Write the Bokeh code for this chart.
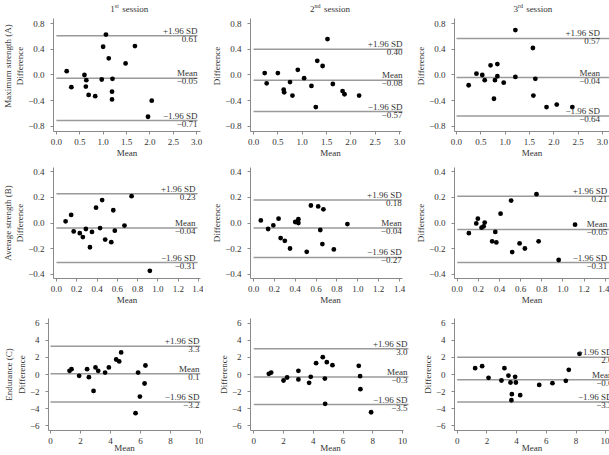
from bokeh.plotting import figure
from bokeh.layouts import column, row
from bokeh.models import Range1d, FixedTicker, CustomJSTickFormatter, Label, Title
from bokeh.embed import file_html
from bokeh.resources import INLINE

# ---------------------------------------------------------------- data
session_numbers = ["1", "2", "3"]
session_suffixes = ["st", "nd", "rd"]
row_names = ["Maximum strength (A)", "Average strength (B)", "Endurance (C)"]

# Maximum strength (A): mean of the two trials vs. their difference
max_s1_mean = [0.22, 0.32, 0.60, 0.64, 0.63, 0.69, 0.83, 0.97, 1.00, 1.06, 1.12, 1.20, 1.19, 1.19, 1.48, 1.68, 1.96, 2.04]
max_s1_diff = [0.06, -0.19, 0.00, -0.08, -0.18, -0.31, -0.33, -0.07, 0.44, 0.63, 0.26, -0.06, -0.26, -0.38, 0.18, 0.45, -0.65, -0.40]
max_s2_mean = [0.23, 0.27, 0.50, 0.62, 0.63, 0.80, 0.75, 0.91, 1.04, 1.19, 1.28, 1.31, 1.42, 1.52, 1.63, 1.83, 1.87, 2.17]
max_s2_diff = [0.03, -0.13, 0.03, -0.23, -0.27, -0.32, -0.11, 0.08, -0.05, -0.17, -0.50, 0.22, 0.14, 0.56, -0.14, -0.25, -0.30, -0.32]
max_s3_mean = [0.25, 0.41, 0.53, 0.58, 0.70, 0.77, 0.79, 0.84, 0.84, 0.97, 1.21, 1.21, 1.57, 1.58, 1.62, 1.85, 2.06, 2.38]
max_s3_diff = [-0.16, 0.02, 0.00, -0.08, 0.15, -0.37, -0.08, 0.17, -0.02, -0.12, 0.70, -0.03, 0.42, -0.32, -0.06, -0.50, -0.46, -0.50]

# Average strength (B)
avg_s1_mean = [0.09, 0.145, 0.17, 0.23, 0.26, 0.29, 0.33, 0.35, 0.39, 0.43, 0.45, 0.48, 0.54, 0.56, 0.575, 0.67, 0.74, 0.92]
avg_s1_diff = [0.013, 0.063, -0.066, -0.08, -0.11, -0.047, -0.19, -0.07, 0.12, -0.04, 0.18, -0.13, -0.15, 0.10, -0.06, -0.02, 0.21, -0.375]
avg_s2_mean = [0.07, 0.14, 0.19, 0.24, 0.26, 0.30, 0.35, 0.40, 0.43, 0.43, 0.51, 0.55, 0.62, 0.64, 0.66, 0.67, 0.77, 0.90]
avg_s2_diff = [0.02, -0.047, -0.018, 0.034, -0.118, -0.14, -0.20, 0.008, 0.0, 0.03, -0.226, 0.137, 0.13, -0.055, -0.165, 0.107, -0.207, -0.008]
avg_s3_mean = [0.11, 0.18, 0.195, 0.23, 0.25, 0.26, 0.33, 0.36, 0.37, 0.41, 0.51, 0.52, 0.59, 0.64, 0.75, 0.77, 0.96, 1.115]
avg_s3_diff = [-0.08, -0.003, 0.034, -0.037, -0.026, 0.003, -0.144, -0.07, -0.152, 0.073, 0.176, -0.228, -0.16, -0.20, 0.226, -0.144, -0.29, -0.013]

# Endurance (C)
end_s1_mean = [1.27, 1.40, 1.91, 2.44, 2.56, 2.87, 3.00, 3.18, 3.64, 3.89, 4.38, 4.58, 4.71, 5.67, 5.84, 5.96, 6.27, 6.33]
end_s1_diff = [0.43, 0.62, -0.16, 0.62, -0.31, -1.91, 0.82, 0.43, 0.23, 0.82, 1.75, 1.52, 2.57, -4.51, 0.23, -2.57, -1.05, 1.05]
end_s2_mean = [1.01, 1.17, 2.00, 2.24, 3.00, 3.00, 3.72, 3.83, 4.19, 4.64, 4.78, 4.80, 4.91, 5.29, 7.06, 7.15, 7.17, 7.89]
end_s2_diff = [0.08, 0.23, -0.70, -0.35, 0.43, -0.58, -0.97, -0.27, 1.32, 2.02, -0.47, -3.42, 1.44, 1.09, 1.01, -0.19, -1.71, -4.40]
end_s3_mean = [1.21, 1.68, 2.11, 2.98, 3.18, 3.45, 3.59, 3.68, 3.65, 3.90, 3.95, 4.24, 5.52, 6.41, 7.31, 7.51, 8.23]
end_s3_diff = [0.74, 0.97, -0.39, -0.70, 0.74, -0.12, -0.93, -2.30, -3.00, -0.27, -0.93, -2.41, -1.21, -1.01, -0.74, 0.54, 2.41]

# Limits of agreement (upper, bias, lower) per session
max_upper = [0.61, 0.40, 0.57]
max_bias = [-0.05, -0.08, -0.04]
max_lower = [-0.71, -0.57, -0.64]
avg_upper = [0.23, 0.18, 0.21]
avg_bias = [-0.04, -0.04, -0.05]
avg_lower = [-0.31, -0.27, -0.31]
end_upper = [3.3, 3.0, 2.0]
end_bias = [0.1, -0.3, -0.6]
end_lower = [-3.2, -3.5, -3.2]

# tick values
max_x_ticks = [0.0, 0.5, 1.0, 1.5, 2.0, 2.5, 3.0]
max_y_ticks = [-0.8, -0.4, 0.0, 0.4, 0.8]
avg_x_ticks = [0.0, 0.2, 0.4, 0.6, 0.8, 1.0, 1.2, 1.4]
avg_y_ticks = [-0.4, -0.2, 0.0, 0.2, 0.4]
end_x_ticks = [0, 2, 4, 6, 8, 10]
end_y_ticks = [-6, -4, -2, 0, 2, 4, 6]

# ---------------------------------------------------------------- styling / layout
FONT = "Liberation Serif"
FS = "9px"
TXT = "#333333"
AXIS = "#8a8a8a"
LINE = "#9a9a9a"
MINUS = "\u2212"

points = [
    [(max_s1_mean, max_s1_diff), (max_s2_mean, max_s2_diff), (max_s3_mean, max_s3_diff)],
    [(avg_s1_mean, avg_s1_diff), (avg_s2_mean, avg_s2_diff), (avg_s3_mean, avg_s3_diff)],
    [(end_s1_mean, end_s1_diff), (end_s2_mean, end_s2_diff), (end_s3_mean, end_s3_diff)],
]
limits = [
    (max_upper, max_bias, max_lower),
    (avg_upper, avg_bias, avg_lower),
    (end_upper, end_bias, end_lower),
]
ticks = [
    (max_x_ticks, max_y_ticks),
    (avg_x_ticks, avg_y_ticks),
    (end_x_ticks, end_y_ticks),
]

# the top row's frame reaches up to the canvas edge so the session headings
# can sit inside it; the y axis itself only spans y_bounds
row_geom = [
    dict(height=162, top=0, bottom=31, y=(-0.88, 1.16), y_bounds=(-0.88, 0.88),
         tick_dec=1, lim_dec=2, label_standoff=0),
    dict(height=150, top=5, bottom=34, y=(-0.435, 0.435), y_bounds=(-0.435, 0.435),
         tick_dec=1, lim_dec=2, label_standoff=0),
    dict(height=143, top=6, bottom=25, y=(-6.53, 6.53), y_bounds=(-6.53, 6.53),
         tick_dec=0, lim_dec=1, label_standoff=-4),
]
col_geom = [
    dict(width=203, left=48, right=3),
    dict(width=207, left=47, right=0),
    dict(width=199, left=44, right=0),
]
# frame x extent, axis-line extent, where the limit labels end, where the lines stop
x_extent = [
    [(-0.062, 3.083), (-0.062, 3.226), (-0.041, 3.144)],
    [(-0.029, 1.419), (-0.029, 1.505), (-0.026, 1.441)],
    [(-0.133, 10.0), (-0.222, 10.54), (-0.18, 10.25)],
]
x_bounds = [
    [(-0.062, 3.083), (-0.062, 3.05), (-0.041, 3.144)],
    [(-0.029, 1.419), (-0.029, 1.43), (-0.026, 1.441)],
    [(-0.133, 10.0), (-0.222, 10.07), (-0.18, 10.25)],
]
label_x = [[3.02, 3.06, 2.95], [1.37, 1.42, 1.42], [9.93, 10.34, 10.45]]
line_end = [[3.02, 3.06, 3.3], [1.39, 1.42, 1.5], [10.0, 10.4, 11.0]]
# pixel offsets of the heading pieces: number, raised suffix, "session"
heading_offsets = [(-18.5, -14.0, -6.5), (-19.0, -14.5, -5.0), (-18.5, -14.0, -5.8)]


def fmt(v, dec):
    s = f"{v:.{dec}f}"
    return MINUS + s[1:] if s.startswith("-") else s


def tick_formatter(dec):
    return CustomJSTickFormatter(args=dict(d=dec), code="""
        let s = tick.toFixed(d);
        if (parseFloat(s) === 0) s = (0).toFixed(d);
        return s.startsWith('-') ? '\u2212' + s.slice(1) : s;
    """)


def add_text(p, x, y, text, baseline, size=FS, x_offset=0, align="right"):
    p.add_layout(Label(x=x, y=y, text=text, text_font=FONT, text_font_size=size,
                       text_color=TXT, text_align=align, text_baseline=baseline,
                       x_offset=x_offset))


rows = []
for r in range(3):
    g = row_geom[r]
    figs = []
    for c in range(3):
        cg = col_geom[c]
        x0, x1 = x_extent[r][c]
        p = figure(width=cg["width"], height=g["height"], output_backend="svg",
                   toolbar_location=None, title=None,
                   x_range=Range1d(x0, x1), y_range=Range1d(*g["y"]),
                   min_border_left=cg["left"], min_border_right=cg["right"],
                   min_border_top=g["top"], min_border_bottom=g["bottom"])
        p.outline_line_color = None
        p.xgrid.visible = False
        p.ygrid.visible = False
        p.background_fill_color = "white"
        p.border_fill_color = "white"

        xt, yt = ticks[r]
        for ax, tv, lab in ((p.xaxis[0], xt, "Mean"), (p.yaxis[0], yt, "Difference")):
            ax.ticker = FixedTicker(ticks=tv)
            ax.formatter = tick_formatter(g["tick_dec"])
            ax.axis_line_color = AXIS
            ax.major_tick_line_color = AXIS
            ax.minor_tick_line_color = None
            ax.major_tick_out = 3
            ax.major_tick_in = 0
            ax.major_label_text_font = FONT
            ax.major_label_text_font_size = FS
            ax.major_label_text_color = TXT
            ax.axis_label = lab
            ax.axis_label_text_font = FONT
            ax.axis_label_text_font_size = FS
            ax.axis_label_text_font_style = "normal"
            ax.axis_label_text_color = TXT
        p.xaxis[0].bounds = x_bounds[r][c]
        p.yaxis[0].bounds = g["y_bounds"]
        p.xaxis[0].major_label_standoff = 4
        p.xaxis[0].axis_label_standoff = g["label_standoff"]
        p.yaxis[0].major_label_standoff = 6
        p.yaxis[0].axis_label_standoff = 0

        if c == 0:
            p.add_layout(Title(text=row_names[r], align="center", text_font=FONT,
                               text_font_size=FS, text_font_style="normal",
                               text_color=TXT, standoff=0, offset=0), "left")

        # limits of agreement
        up, bias, low = (lim[c] for lim in limits[r])
        for v in (up, bias, low):
            p.line([0, line_end[r][c]], [v, v], line_color=LINE, line_width=1.5)
        lx = label_x[r][c]
        dec = g["lim_dec"]
        add_text(p, lx, up, "+1.96 SD", "bottom")
        add_text(p, lx, up, fmt(up, dec), "top")
        add_text(p, lx, bias, "Mean", "bottom")
        add_text(p, lx, bias, fmt(bias, dec), "top")
        add_text(p, lx, low, MINUS + "1.96 SD", "bottom")
        add_text(p, lx, low, fmt(low, dec), "top")

        mx, dy = points[r][c]
        p.scatter(mx, dy, size=4.8, color="black", line_width=0)

        # session headings on the top row
        if r == 0:
            per_px = (g["y_bounds"][1] - g["y_bounds"][0]) / 113.0
            ty = g["y_bounds"][1] + 9 * per_px
            cx = 1.55
            o_num, o_sup, o_word = heading_offsets[c]
            add_text(p, cx, ty, session_numbers[c], "middle", x_offset=o_num, align="left")
            add_text(p, cx, ty + 3.5 * per_px, session_suffixes[c], "middle",
                     size="6px", x_offset=o_sup, align="left")
            add_text(p, cx, ty, "session", "middle", x_offset=o_word, align="left")
        figs.append(p)
    rows.append(row(*figs))

layout = column(*rows)
open("out.html", "w").write(file_html(layout, INLINE))
